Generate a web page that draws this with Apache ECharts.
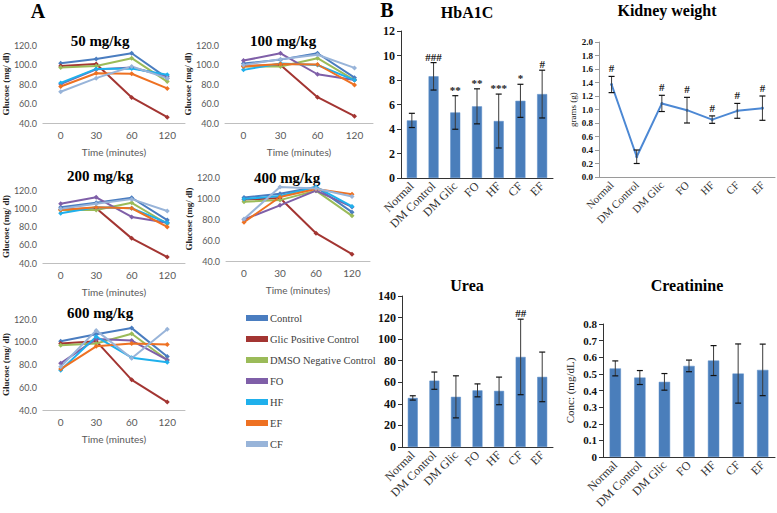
<!DOCTYPE html>
<html><head><meta charset="utf-8">
<script src="https://cdn.jsdelivr.net/npm/echarts@6/dist/echarts.min.js"></script>
<style>html,body{margin:0;padding:0;background:#fff}#c{width:777px;height:513px}</style>
</head><body><div id="c"></div>
<script>
// ---------- Panel A data ----------
const times = ['0', '30', '60', '120'];
const groupNames = ['Control', 'Glic Positive Control', 'DMSO Negative Control', 'FO', 'HF', 'EF', 'CF'];
// rows follow groupNames order
const dose50 = [
  [101.3, 105.7, 111.5, 86], [98.5, 100.6, 66.2, 46], [97, 98.5, 106.5, 82.5],
  [80, 95, 97, 88], [81, 95.5, 96, 89.5], [77.5, 91, 90.5, 75.5], [72, 86, 98, 86]
];
const dose100 = [
  [101, 105, 111.5, 86.5], [98.5, 99.5, 66.5, 47], [98, 98, 106.5, 84],
  [104, 111.5, 90, 84], [94.5, 101, 99.5, 84], [98, 100.5, 100, 79], [99.5, 105.5, 110, 96.5]
];
const dose200 = [
  [101, 106, 111.5, 87], [98.5, 100, 67, 46.5], [98, 98, 106, 83],
  [105, 112, 90.5, 84], [94.5, 101, 100, 84], [98, 101, 100, 79.5], [99.5, 105, 110, 97]
];
const dose400 = [
  [100.5, 104, 110.5, 86.5], [98.5, 100, 66.5, 46.5], [96.5, 98, 107, 83],
  [79.5, 93, 107, 91.5], [99, 102, 110.5, 92], [77, 101, 108.5, 103.5], [80, 110.5, 109, 101.5]
];
const dose600 = [
  [100.5, 106.5, 112, 87], [98.5, 100.5, 66.5, 47], [97, 98.5, 107, 84],
  [81, 102.5, 101, 84], [75, 104.5, 86, 82], [76, 96, 98.5, 97.5], [78, 110, 85.5, 111]
];
const doseTitles = ['50 mg/kg', '100 mg/kg', '200 mg/kg', '400 mg/kg', '600 mg/kg'];

// ---------- Panel B data ----------
const bCats = ['Normal', 'DM Control', 'DM Glic', 'FO', 'HF', 'CF', 'EF'];
const hba1cMean = [4.7, 8.3, 5.35, 5.85, 4.65, 6.3, 6.85];
const hba1cErr = [0.58, 1.12, 1.37, 1.43, 2.2, 1.35, 1.95];
const hba1cMarks = ['', '###', '**', '**', '***', '*', '#'];
const kidneyMean = [1.37, 0.3, 1.09, 0.99, 0.85, 0.98, 1.02];
const kidneyErr = [0.12, 0.1, 0.12, 0.19, 0.055, 0.11, 0.18];
const kidneyMarks = ['#', '', '#', '#', '#', '#', '#'];
const ureaMean = [45.5, 61.5, 46.5, 52.5, 52, 83.5, 65];
const ureaErr = [2, 8, 19.5, 6, 12.8, 35, 23];
const ureaMarks = ['', '', '', '', '', '##', ''];
const creatMean = [0.533, 0.478, 0.452, 0.548, 0.58, 0.502, 0.524];
const creatErr = [0.045, 0.042, 0.05, 0.035, 0.09, 0.178, 0.155];
const creatMarks = ['', '', '', '', '', '', ''];

// ---------- styles / layout ----------
const groupColors = ['#4A7DC0', '#A33532', '#9BBB59', '#7F5FA8', '#1FB0EC', '#EE7122', '#98B4D9'];
const SERIF = '"Liberation Serif","Times New Roman",serif';
const SANS = 'Lato,"Liberation Sans",sans-serif';
const doses = [dose50, dose100, dose200, dose400, dose600];
const lineLayout = [
  { left: 40, top: 45, width: 145, height: 78, tx: 100, ty: 41 },
  { left: 225, top: 45, width: 148, height: 78, tx: 283, ty: 41 },
  { left: 40, top: 190, width: 145, height: 73, tx: 100, ty: 176 },
  { left: 226, top: 177, width: 144, height: 84, tx: 287, ty: 178 },
  { left: 42, top: 319, width: 143, height: 91, tx: 100, ty: 313 }
];

const grid = [], xAxis = [], yAxis = [], series = [], graphic = [];

lineLayout.forEach((L, g) => {
  grid.push({ left: L.left, top: L.top, width: L.width, height: L.height });
  xAxis.push({
    type: 'category', gridIndex: g, data: times, boundaryGap: true,
    name: 'Time (minutes)', nameLocation: 'middle', nameGap: 24,
    nameTextStyle: { fontFamily: SANS, fontSize: 10, color: '#595959' },
    axisLine: { lineStyle: { color: '#BFBFBF' } },
    axisTick: { length: 16, lineStyle: { color: '#BFBFBF' } },
    axisLabel: { fontFamily: SANS, fontSize: 10, color: '#595959', margin: 7 }
  });
  yAxis.push({
    type: 'value', gridIndex: g, min: 40, max: 120, interval: 20,
    name: 'Glucose (mg/ dl)', nameLocation: 'middle', nameGap: 30,
    nameTextStyle: { fontFamily: SERIF, fontSize: 9, fontWeight: 'bold', color: '#222' },
    axisLine: { show: false }, axisTick: { show: false }, splitLine: { show: false },
    axisLabel: { fontFamily: SANS, fontSize: 9, color: '#595959', margin: 6,
      formatter: v => v.toFixed(1) }
  });
  doses[g].forEach((row, s) => {
    series.push({
      type: 'line', name: groupNames[s], xAxisIndex: g, yAxisIndex: g, data: row,
      color: groupColors[s], lineStyle: { width: 2, color: groupColors[s] },
      itemStyle: { color: groupColors[s] }, symbol: 'diamond', symbolSize: 5,
      animation: false
    });
  });
  graphic.push({ type: 'text', x: L.tx, y: L.ty,
    style: { text: doseTitles[g], align: 'center', verticalAlign: 'middle',
      fontFamily: SERIF, fontSize: 15, fontWeight: 'bold', fill: '#000' } });
});

// ---------- Panel B ----------
const bLayout = [
  { key: 'hba1c', left: 401, top: 31, width: 152, height: 147, min: 0, max: 12, interval: 2,
    mean: hba1cMean, err: hba1cErr, marks: hba1cMarks, kind: 'bar', title: 'HbA1C', tx: 467, ty: 12,
    yname: '', fs: 12, xfs: 12, fmt: v => String(v), markOff: 6 },
  { key: 'kidney', left: 599, top: 42, width: 176, height: 135, min: 0, max: 2, interval: 0.2,
    mean: kidneyMean, err: kidneyErr, marks: kidneyMarks, kind: 'line', title: 'Kidney weight', tx: 667, ty: 10,
    yname: 'grams (g)', fs: 9, xfs: 11, fmt: v => v.toFixed(1), markOff: 8 },
  { key: 'urea', left: 402, top: 296, width: 151, height: 151, min: 0, max: 140, interval: 20,
    mean: ureaMean, err: ureaErr, marks: ureaMarks, kind: 'bar', title: 'Urea', tx: 467, ty: 285,
    yname: '', fs: 12, xfs: 12, fmt: v => String(v), markOff: 6 },
  { key: 'creat', left: 603, top: 324, width: 172, height: 133, min: 0, max: 0.8, interval: 0.1,
    mean: creatMean, err: creatErr, marks: creatMarks, kind: 'bar', title: 'Creatinine', tx: 687, ty: 285,
    yname: 'Conc: (mg/dL)', fs: 11, xfs: 12, fmt: v => (v === 0 ? '0' : v.toFixed(1)), markOff: 6 }
];

function errRender(params, api) {
  const x = api.value(0), lo = api.value(1), hi = api.value(2);
  const p1 = api.coord([x, lo]), p2 = api.coord([x, hi]);
  const w = 3;
  return { type: 'group', children: [
    { type: 'line', shape: { x1: p1[0], y1: p1[1], x2: p2[0], y2: p2[1] }, style: { stroke: '#3a3a3a', lineWidth: 1 } },
    { type: 'line', shape: { x1: p1[0] - w, y1: p1[1], x2: p1[0] + w, y2: p1[1] }, style: { stroke: '#111', lineWidth: 1.2 } },
    { type: 'line', shape: { x1: p2[0] - w, y1: p2[1], x2: p2[0] + w, y2: p2[1] }, style: { stroke: '#111', lineWidth: 1.2 } }
  ] };
}

bLayout.forEach((B, k) => {
  const g = lineLayout.length + k;
  const axisCol = B.kind === 'line' ? '#9a9a9a' : '#333';
  grid.push({ left: B.left, top: B.top, width: B.width, height: B.height });
  xAxis.push({
    type: 'category', gridIndex: g, data: bCats, boundaryGap: true,
    axisLine: { lineStyle: { color: axisCol } },
    axisTick: { length: 5, lineStyle: { color: axisCol } },
    axisLabel: { fontFamily: SERIF, fontSize: B.xfs, color: '#333', rotate: 45, margin: 6, interval: 0 }
  });
  yAxis.push({
    type: 'value', gridIndex: g, min: B.min, max: B.max, interval: B.interval,
    name: B.yname, nameLocation: 'middle', nameGap: B.key === 'kidney' ? 22 : 28,
    nameTextStyle: { fontFamily: SERIF, fontSize: B.key === 'kidney' ? 9 : 11, color: '#222' },
    axisLine: { show: true, lineStyle: { color: axisCol } },
    axisTick: { show: true, length: 4, lineStyle: { color: axisCol } },
    splitLine: { show: false },
    axisLabel: { fontFamily: SERIF, fontSize: B.fs, fontWeight: 'bold', color: '#111', margin: 6, formatter: B.fmt }
  });
  if (B.kind === 'bar') {
    series.push({ type: 'bar', name: B.title, xAxisIndex: g, yAxisIndex: g, data: B.mean,
      barWidth: '46%', itemStyle: { color: '#4A7EBB', borderColor: '#5B8CC8', borderWidth: 0.5 }, animation: false });
  } else {
    series.push({ type: 'line', name: B.title, xAxisIndex: g, yAxisIndex: g, data: B.mean,
      lineStyle: { width: 2, color: '#4C88D4' }, itemStyle: { color: '#4C88D4' },
      symbol: 'circle', symbolSize: 3, animation: false });
  }
  series.push({ type: 'custom', name: B.title + ' err', xAxisIndex: g, yAxisIndex: g, z: 5,
    data: B.mean.map((m, i) => [i, m - B.err[i], m + B.err[i]]),
    renderItem: errRender, animation: false });
  const marks = B.marks, off = B.markOff;
  series.push({ type: 'custom', name: B.title + ' sig', xAxisIndex: g, yAxisIndex: g, z: 6,
    data: B.mean.map((m, i) => [i, m + B.err[i]]),
    renderItem: function (params, api) {
      const p = api.coord([api.value(0), api.value(1)]);
      return { type: 'text', x: p[0], y: p[1] - off,
        style: { text: marks[params.dataIndex], align: 'center', verticalAlign: 'middle',
          fontFamily: SERIF, fontSize: 11, fontWeight: 'bold', fill: '#222' } };
    }, animation: false });
  graphic.push({ type: 'text', x: B.tx, y: B.ty,
    style: { text: B.title, align: 'center', verticalAlign: 'middle',
      fontFamily: SERIF, fontSize: 16, fontWeight: 'bold', fill: '#000' } });
});

graphic.push({ type: 'text', x: 38, y: 11, style: { text: 'A', align: 'center', verticalAlign: 'middle',
  fontFamily: SERIF, fontSize: 20, fontWeight: 'bold', fill: '#000' } });
graphic.push({ type: 'text', x: 387, y: 10, style: { text: 'B', align: 'center', verticalAlign: 'middle',
  fontFamily: SERIF, fontSize: 20, fontWeight: 'bold', fill: '#000' } });

const chart = echarts.init(document.getElementById('c'), null, { renderer: 'svg' });
chart.setOption({
  backgroundColor: '#fff',
  animation: false,
  grid, xAxis, yAxis, series, graphic,
  legend: {
    data: groupNames, orient: 'vertical', left: 241, top: 306,
    itemWidth: 22, itemHeight: 6, itemGap: 7, icon: 'rect', selectedMode: false,
    textStyle: { fontFamily: SERIF, fontSize: 10.5, color: '#404040', lineHeight: 14, padding: [0, 0, 0, -3] }
  }
});
</script>
</body></html>
